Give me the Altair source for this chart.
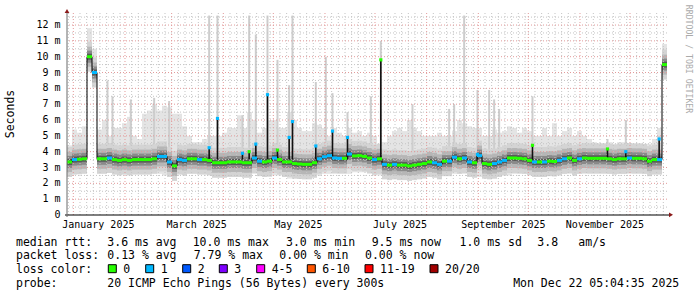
import altair as alt
import pandas as pd
import numpy as np

# ---------------- data ----------------
START = "2024-12-28 05:00"        # first 3-day column
STEP = "3D"

median_ms = [
    3.35, 3.50, 3.52, 3.55, 10.0, 9.00, 3.55, 3.55, 3.60, 3.50,
    3.45, 3.50, 3.45, 3.50, 3.50, 3.50, 3.50, 3.55, 3.70, 3.70,
    3.35, 3.10, 3.50, 3.45, 3.55, 3.55, 3.50, 3.50, 3.45, 3.30,
    3.30, 3.30, 3.35, 3.35, 3.35, 3.30, 3.30, 3.60, 3.40, 3.35,
    3.40, 3.60, 3.50, 3.35, 3.35, 3.25, 3.22, 3.20, 3.20, 3.30,
    3.55, 3.68, 3.75, 3.60, 3.58, 3.58, 3.85, 3.73, 3.75, 3.70,
    3.60, 3.50, 3.55, 3.20, 3.15, 3.20, 3.15, 3.15, 3.10, 3.15,
    3.20, 3.25, 3.35, 3.30, 3.20, 3.40, 3.40, 3.65, 3.55, 3.60,
    3.35, 3.30, 3.75, 3.25, 3.20, 3.25, 3.35, 3.45, 3.60, 3.60,
    3.58, 3.55, 3.45, 3.35, 3.35, 3.35, 3.40, 3.38, 3.45, 3.55,
    3.60, 3.45, 3.55, 3.60, 3.58, 3.58, 3.58, 3.58, 3.55, 3.50,
    3.55, 3.55, 3.60, 3.58, 3.58, 3.55, 3.40, 3.50, 3.50, 9.50,
]
smoke_low_ms = [
    2.65, 2.65, 2.60, 2.70, 9.60, 8.60, 2.65, 2.65, 2.70, 2.70,
    2.70, 2.70, 2.70, 2.70, 2.70, 2.70, 2.70, 2.70, 2.60, 2.50,
    2.50, 2.40, 2.60, 2.60, 2.70, 2.70, 2.70, 2.60, 2.60, 2.50,
    2.50, 2.50, 2.50, 2.50, 2.50, 2.50, 2.50, 2.60, 2.50, 2.40,
    2.40, 2.50, 2.50, 2.40, 2.30, 2.30, 2.30, 2.30, 2.35, 2.40,
    2.50, 2.60, 2.60, 2.60, 2.60, 2.60, 2.60, 2.70, 2.70, 2.70,
    2.60, 2.50, 2.50, 2.40, 2.30, 2.30, 2.30, 2.30, 2.30, 2.30,
    2.35, 2.40, 2.40, 2.40, 2.40, 2.50, 2.50, 2.60, 2.60, 2.60,
    2.50, 2.40, 2.40, 2.30, 2.30, 2.30, 2.40, 2.50, 2.50, 2.60,
    2.60, 2.60, 2.60, 2.50, 2.50, 2.50, 2.50, 2.50, 2.50, 2.60,
    2.60, 2.60, 2.60, 2.60, 2.60, 2.60, 2.60, 2.60, 2.60, 2.60,
    2.60, 2.60, 2.60, 2.60, 2.60, 2.60, 2.60, 2.65, 2.65, 8.80,
]
smoke_high_ms = [
    4.4, 5.4, 5.2, 5.6, 11.8, 10.5, 5.4, 6.0, 5.0, 5.5,
    5.5, 5.8, 6.2, 5.0, 4.8, 6.4, 6.6, 7.0, 6.6, 6.9,
    6.8, 6.4, 6.4, 5.6, 5.0, 4.6, 4.6, 4.8, 5.0, 5.0,
    5.0, 5.2, 5.5, 5.5, 6.3, 5.5, 6.5, 6.0, 5.2, 5.5,
    6.0, 6.0, 5.5, 5.5, 6.5, 6.0, 5.5, 5.3, 5.3, 5.8,
    5.7, 5.5, 5.0, 5.5, 5.2, 5.0, 5.5, 5.2, 5.3, 5.0,
    5.2, 5.0, 4.5, 4.6, 5.0, 5.3, 5.5, 5.3, 6.0, 5.5,
    5.3, 5.0, 5.0, 5.0, 5.2, 5.0, 5.0, 5.3, 6.0, 5.8,
    5.6, 5.5, 5.5, 5.0, 5.0, 5.4, 5.2, 5.3, 5.6, 5.5,
    5.2, 5.5, 5.3, 5.0, 5.0, 5.5, 5.0, 5.8, 5.0, 5.3,
    5.5, 5.0, 5.3, 5.0, 4.8, 4.6, 4.5, 4.5, 4.6, 4.5,
    4.6, 4.6, 4.5, 4.4, 4.4, 4.4, 4.5, 4.8, 5.5, 10.8,
]
loss_class = [
    "0", "1", "0", "0", "0", "1", "0", "0", "1", "0",
    "0", "0", "0", "0", "0", "0", "0", "0", "1", "1",
    "1", "0", "1", "1", "0", "0", "1", "0", "0", "0",
    "0", "0", "0", "0", "0", "0", "0", "1", "1", "0",
    "0", "1", "0", "0", "0", "0", "0", "0", "0", "0",
    "1", "1", "1", "1", "1", "0", "1", "0", "0", "0",
    "0", "1", "0", "1", "0", "1", "0", "0", "0", "0",
    "0", "0", "0", "1", "1", "0", "1", "1", "0", "1",
    "1", "0", "1", "0", "0", "1", "1", "1", "0", "0",
    "0", "0", "0", "1", "0", "1", "0", "0", "1", "1",
    "0", "0", "1", "0", "0", "0", "0", "0", "0", "0",
    "0", "0", "1", "0", "0", "0", "0", "0", "1", "0",
]

# short single-sample spikes
spike_dates = [
    "2025-01-21", "2025-01-24", "2025-02-04", "2025-02-18", "2025-02-27",
    "2025-03-23", "2025-03-28", "2025-04-12", "2025-04-16", "2025-04-20",
    "2025-04-27", "2025-05-03", "2025-05-10", "2025-05-12", "2025-05-26",
    "2025-06-01", "2025-06-05", "2025-06-14", "2025-06-28", "2025-07-04",
    "2025-07-23", "2025-08-14", "2025-08-17", "2025-08-23", "2025-08-31",
    "2025-09-07", "2025-09-10", "2025-09-13", "2025-10-03", "2025-11-17",
    "2025-11-28", "2025-12-18",
]
spike_median_ms = [
    None, None, None, None, None,
    4.25, 6.1, 3.9, 4.0, 4.48,
    7.6, 4.1, 4.9, 5.9, 4.36,
    None, 5.3, 4.9, None, 9.8,
    None, None, None, None, 3.83,
    None, None, None, 4.4, 4.17,
    4.0, 4.8,
]
spike_top_ms = [
    8.5, 7.5, 7.3, 7.4, 7.2,
    12.6, 12.6, 6.3, 12.6, 11.4,
    12.6, 9.8, 8.2, 12.6, 8.4,
    10.0, 7.7, 6.5, 7.5, 11.0,
    7.0, 6.7, 7.0, 12.6, 7.9,
    7.9, 7.3, 6.7, 7.5, 4.8,
    6.0, 5.0,
]
spike_loss = [
    "0", "0", "0", "0", "0",
    "1", "1", "1", "0", "1",
    "1", "0", "1", "1", "1",
    "0", "1", "1", "0", "0",
    "0", "0", "0", "0", "1",
    "0", "0", "0", "0", "0",
    "1", "1",
]

y_tick_values = list(range(13))
y_tick_labels = ["0", "1 m", "2 m", "3 m", "4 m", "5 m", "6 m", "7 m",
                 "8 m", "9 m", "10 m", "11 m", "12 m"]
x_label_dates = ["2025-01-16", "2025-03-16", "2025-05-16",
                 "2025-07-16", "2025-09-16", "2025-11-16"]

loss_labels = ["0", "1", "2", "3", "4-5", "6-10", "11-19", "20/20"]
loss_colors = ["#26ff00", "#00b8ff", "#0059ff", "#7e00ff",
               "#ff00ff", "#ff5500", "#ff0000", "#a10000"]

legend_rows = [
    ("median rtt:", ["3.6 ms avg", "10.0 ms max", "3.0 ms min", "9.5 ms now",
                     "1.0 ms sd", "3.8", "am/s"]),
    ("packet loss:", ["0.13 % avg", "7.79 % max", "0.00 % min", "0.00 % now"]),
]
probe_text = "20 ICMP Echo Pings (56 Bytes) every 300s"
stamp_text = "Mon Dec 22 05:04:35 2025"

# ---------------- layout (pixels, relative to plot origin) ----------------
PW, PH = 600, 202
PAD = {"left": 67, "top": 13, "right": 30, "bottom": 82}
FONT = "DejaVu Sans Mono"
row1_x = [40.3, 125.7, 219, 304.7, 392.5, 470.3, 511.3]
row2_x = [40.3, 126.7, 212.3, 298]
row_base = [232.5, 246.2, 260, 273.7]
box_x = [41.3, 78.7, 115.7, 152.3, 189.7, 240.3, 298, 363]

# ---------------- frames ----------------
starts = pd.date_range(START, periods=len(median_ms), freq=STEP)
cols = pd.DataFrame({
    "start": starts,
    "end": starts + pd.Timedelta(STEP),
    "med": median_ms,
    "lo": smoke_low_ms,
    "hi": smoke_high_ms,
    "loss": loss_class,
})
line_df = pd.concat([
    cols[["start", "med"]],
    pd.DataFrame({"start": [cols["end"].iloc[-1]], "med": [median_ms[-1]]}),
], ignore_index=True)

spikes = pd.DataFrame({
    "date": pd.to_datetime(spike_dates) + pd.Timedelta("12h"),
    "peak": [np.nan if v is None else v for v in spike_median_ms],
    "top": spike_top_ms,
    "loss": spike_loss,
})
spikes_med = spikes.dropna(subset=["peak"])

minor_dates, major_dates = [pd.Timestamp("2024-12-29")], []
for m in range(1, 13):
    major_dates.append(pd.Timestamp(2025, m, 1))
    for d in [5, 9, 13, 17, 21, 25, 29]:
        try:
            t = pd.Timestamp(2025, m, d)
        except ValueError:
            continue
        if t < pd.Timestamp("2025-12-23"):
            minor_dates.append(t)
vmin = pd.DataFrame({"d": minor_dates})
vmaj = pd.DataFrame({"d": major_dates})
hmin = pd.DataFrame({"v": [k + 0.5 for k in range(13)]})
hmaj = pd.DataFrame({"v": list(range(1, 13))})
ylab = pd.DataFrame({"v": y_tick_values, "t": y_tick_labels})
xlab = pd.DataFrame({"d": pd.to_datetime(x_label_dates)})

xscale = alt.Scale(domain=[alt.DateTime(year=2024, month=12, date=28, hours=5),
                           alt.DateTime(year=2025, month=12, date=23, hours=5)])
yscale = alt.Scale(domain=[0, 12.76], nice=False, zero=False)
GREEN_BLUE = alt.Scale(domain=["0", "1"], range=loss_colors[:2])


def X(f):
    return alt.X(f, scale=xscale, axis=None, title=None)


def Y(f):
    return alt.Y(f, scale=yscale, axis=None, title=None)


outer = alt.Chart(cols).mark_rect(color="#e4e4e4").encode(
    x=X("start:T"), x2="end:T", y=Y("lo:Q"), y2="hi:Q")

spike_gray = alt.Chart(spikes).mark_rule(color="#cdcdcd", strokeWidth=2).encode(
    x=X("date:T"), y=Y("top:Q"), y2=alt.datum(3.3))


def band(width, color):
    return alt.Chart(cols).mark_rule(color=color, strokeWidth=width).encode(
        x=X("start:T"), x2="end:T", y=Y("med:Q"))


grid_dash = [1, 2]
g_vmin = alt.Chart(vmin).mark_rule(color="#c4c4c4", strokeDash=grid_dash, strokeWidth=1).encode(x=X("d:T"))
g_vmaj = alt.Chart(vmaj).mark_rule(color="#e29a9a", strokeDash=grid_dash, strokeWidth=1).encode(x=X("d:T"))
g_hmin = alt.Chart(hmin).mark_rule(color="#c4c4c4", strokeDash=grid_dash, strokeWidth=1).encode(y=Y("v:Q"))
g_hmaj = alt.Chart(hmaj).mark_rule(color="#e29a9a", strokeDash=grid_dash, strokeWidth=1).encode(y=Y("v:Q"))

med_line = alt.Chart(line_df).mark_line(interpolate="step-after", color="#000", strokeWidth=1).encode(
    x=X("start:T"), y=Y("med:Q"))

spike_dark = alt.Chart(spikes_med).mark_rule(color="#111", strokeWidth=1.6).encode(
    x=X("date:T"), y=Y("peak:Q"), y2=alt.datum(3.5))

med_color = alt.Chart(cols).mark_rule(strokeWidth=3).encode(
    x=X("start:T"), x2="end:T", y=Y("med:Q"),
    color=alt.Color("loss:N", scale=GREEN_BLUE, legend=None))

spike_pts = alt.Chart(spikes_med).mark_square(size=10, opacity=1, filled=True).encode(
    x=X("date:T"), y=Y("peak:Q"),
    color=alt.Color("loss:N", scale=GREEN_BLUE, legend=None))

y_labels = alt.Chart(ylab).mark_text(align="right", baseline="middle", font=FONT,
                                     fontSize=10, color="#000").encode(
    y=Y("v:Q"), x=alt.value(-6.5), text="t:N")
x_labels = alt.Chart(xlab).mark_text(align="center", baseline="alphabetic", font=FONT,
                                     fontSize=10, color="#000").encode(
    x=X("d:T"), y=alt.value(215.3), text=alt.Text("d:T", format="%B %Y"))

one = pd.DataFrame({"k": [0]})


def txt(s, x, y, size=11.5, align="left", baseline="alphabetic", angle=0, color="#000"):
    return alt.Chart(one).mark_text(text=s, align=align, baseline=baseline, font=FONT,
                                    fontSize=size, color=color, angle=angle).encode(
        x=alt.value(x), y=alt.value(y))


axis_x = alt.Chart(one).mark_rule(color="#000", strokeWidth=1).encode(
    x=alt.value(-2), x2=alt.value(602), y=alt.value(202))
axis_y = alt.Chart(one).mark_rule(color="#6a6a6a", strokeWidth=1).encode(
    x=alt.value(0), y=alt.value(-1), y2=alt.value(204))
arrow_r = alt.Chart(one).mark_point(shape="triangle-right", filled=True, size=22,
                                    color="#8b1a1a", opacity=1).encode(
    x=alt.value(604), y=alt.value(201.8))
arrow_u = alt.Chart(one).mark_point(shape="triangle-up", filled=True, size=22,
                                    color="#8b1a1a", opacity=1).encode(
    x=alt.value(0), y=alt.value(-2))

texts = [
    txt("Seconds", -56, 101, angle=270, align="center", baseline="middle"),
    txt("RRDTOOL / TOBI OETIKER", 620.5, 46, size=8.2, angle=90, align="center",
        baseline="middle", color="#aaaaaa"),
]
for (head, parts), xs, yb in zip(legend_rows, [row1_x, row2_x], row_base[:2]):
    texts.append(txt(head, -51, yb))
    for p, xx in zip(parts, xs):
        texts.append(txt(p, xx, yb))
texts.append(txt("loss color:", -51, row_base[2]))
boxes = []
for lab, col, bx in zip(loss_labels, loss_colors, box_x):
    boxes.append(alt.Chart(one).mark_rect(color=col, stroke="#000", strokeWidth=1).encode(
        x=alt.value(bx), x2=alt.value(bx + 8), y=alt.value(251.7), y2=alt.value(259.7)))
    texts.append(txt(lab, bx + 15, row_base[2]))
texts.append(txt("probe:", -51, row_base[3]))
texts.append(txt(probe_text, 40.3, row_base[3]))
texts.append(txt(stamp_text, 612.3, row_base[3], align="right"))

chart = alt.layer(
    outer, spike_gray,
    band(30, "#d4d4d4"), band(20, "#b6b6b6"), band(12, "#8a8a8a"), band(6, "#585858"),
    g_vmin, g_hmin, g_vmaj, g_hmaj,
    med_line, spike_dark, med_color, spike_pts,
    axis_x, axis_y, arrow_r, arrow_u, y_labels, x_labels,
    *boxes, *texts,
).properties(
    width=PW, height=PH, padding=PAD,
    autosize=alt.AutoSizeParams(type="none"),
    background="#ffffff",
).configure_view(strokeWidth=0)

chart.save("out.html", embed_options={"renderer": "svg", "actions": False})
